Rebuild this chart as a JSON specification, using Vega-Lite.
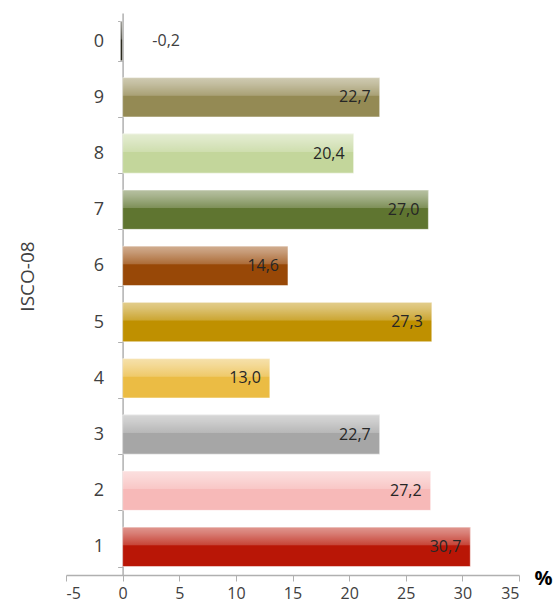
{
  "$schema": "https://vega.github.io/schema/vega-lite/v6.json",
  "width": 453,
  "height": 562,
  "autosize": {"type": "none"},
  "padding": {"left": 66, "top": 13, "right": 34, "bottom": 35},
  "background": "white",
  "config": {"view": {"stroke": null}, "font": "Open Sans"},
  "data": {
    "values": [
      {"isco": "0", "value": -0.2, "label": "-0,2"},
      {"isco": "9", "value": 22.7, "label": "22,7"},
      {"isco": "8", "value": 20.4, "label": "20,4"},
      {"isco": "7", "value": 27.0, "label": "27,0"},
      {"isco": "6", "value": 14.6, "label": "14,6"},
      {"isco": "5", "value": 27.3, "label": "27,3"},
      {"isco": "4", "value": 13.0, "label": "13,0"},
      {"isco": "3", "value": 22.7, "label": "22,7"},
      {"isco": "2", "value": 27.2, "label": "27,2"},
      {"isco": "1", "value": 30.7, "label": "30,7"}
    ]
  },
  "encoding": {
    "y": {
      "field": "isco",
      "type": "nominal",
      "sort": ["0", "9", "8", "7", "6", "5", "4", "3", "2", "1"],
      "scale": {"paddingInner": 0.3, "paddingOuter": 0.15},
      "axis": {
        "title": "ISCO-08",
        "titleFont": "Open Sans",
        "titleFontSize": 19,
        "titleFontWeight": "normal",
        "titleColor": "#404040",
        "titlePadding": 56,
        "titleY": 263,
        "titleAnchor": null,
        "offset": -56.6,
        "tickBand": "extent",
        "tickSize": 5,
        "tickColor": "#b0b0b0",
        "domainColor": "#b0b0b0",
        "domainWidth": 1.5,
        "labelFontSize": 18,
        "labelColor": "#404040",
        "labelPadding": 14,
        "labelFont": "Open Sans"
      }
    }
  },
  "layer": [
    {
      "mark": {"type": "bar", "stroke": "rgba(255,255,255,0.5)", "strokeWidth": 1},
      "encoding": {
        "x": {
          "field": "value",
          "type": "quantitative",
          "scale": {"domain": [-5, 35], "nice": false, "zero": false},
          "axis": {
            "values": [-5, 0, 5, 10, 15, 20, 25, 30, 35],
            "labelExpr": "datum.value < 0 ? '-' + abs(datum.value) : '' + datum.value",
            "grid": false,
            "tickSize": 6,
            "tickColor": "#b0b0b0",
            "domainColor": "#b0b0b0",
            "domainWidth": 1.5,
            "labelFontSize": 16,
            "labelColor": "#404040",
            "labelFont": "Open Sans",
            "labelPadding": 4,
            "title": "%",
            "titleFontSize": 20,
            "titleFontWeight": "bold",
            "titleColor": "#000000",
            "titleAnchor": null,
            "titleX": 477,
            "titleY": 3,
            "titleAlign": "center",
            "titleBaseline": "middle"
          }
        },
        "x2": {"datum": 0},
        "color": {
          "field": "isco",
          "type": "nominal",
          "legend": null,
          "scale": {
            "domain": ["0", "9", "8", "7", "6", "5", "4", "3", "2", "1"],
            "range": ["#2b2a1e", "#948a54", "#c3d69b", "#5f7530", "#984807", "#bf9000", "#ebbc44", "#a6a6a6", "#f7b9b8", "#b91606"]
          }
        }
      }
    },
    {
      "mark": {
        "type": "bar",
        "color": {
          "gradient": "linear",
          "x1": 0, "y1": 0, "x2": 0, "y2": 1,
          "stops": [
            {"offset": 0, "color": "rgba(255,255,255,0.55)"},
            {"offset": 0.15, "color": "rgba(255,255,255,0.45)"},
            {"offset": 0.45, "color": "rgba(255,255,255,0.2)"},
            {"offset": 0.47, "color": "rgba(255,255,255,0)"},
            {"offset": 1, "color": "rgba(255,255,255,0)"}
          ]
        }
      },
      "encoding": {
        "x": {"field": "value", "type": "quantitative"},
        "x2": {"datum": 0}
      }
    },
    {
      "transform": [{"filter": "datum.value > 0"}],
      "mark": {"type": "text", "align": "right", "dx": -9, "fontSize": 16, "color": "#262626", "font": "Open Sans"},
      "encoding": {
        "x": {"field": "value", "type": "quantitative"},
        "text": {"field": "label"}
      }
    },
    {
      "transform": [{"filter": "datum.value <= 0"}],
      "mark": {"type": "text", "align": "left", "dx": 32, "fontSize": 16, "color": "#404040", "font": "Open Sans"},
      "encoding": {
        "x": {"field": "value", "type": "quantitative"},
        "text": {"field": "label"}
      }
    }
  ]
}
